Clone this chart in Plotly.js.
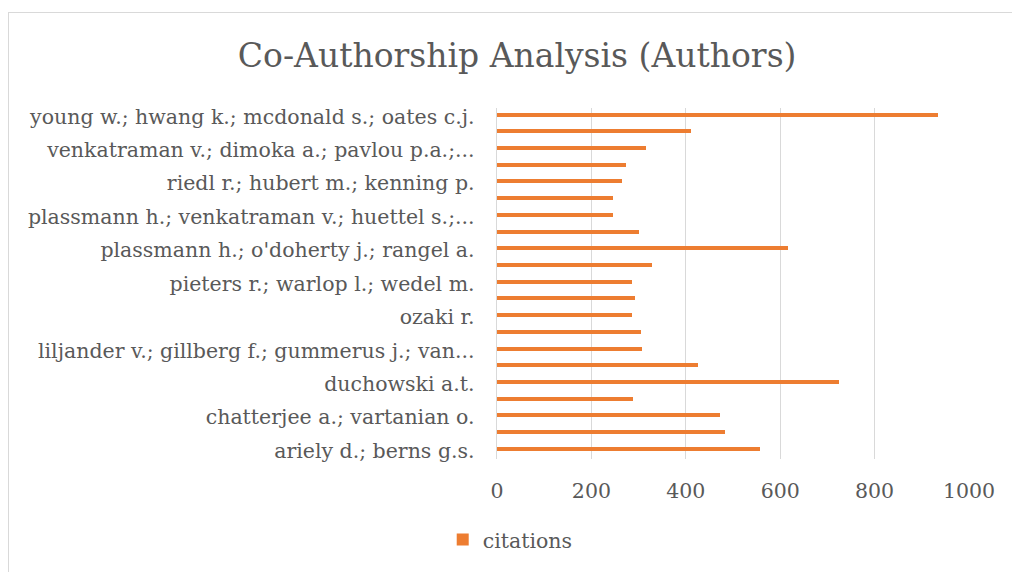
<!DOCTYPE html>
<html>
<head>
<meta charset="utf-8">
<script src="https://cdn.plot.ly/plotly-3.0.1.min.js"></script>
<style>
  html, body { margin: 0; padding: 0; background: #fff; }
  #chart { width: 1012px; height: 572px; }
  #frame { position: absolute; left: 8px; top: 12px; width: 1100px; height: 700px;
           border-left: 1.5px solid #d9d9d9; border-top: 1.5px solid #d9d9d9; pointer-events: none; }
</style>
</head>
<body>
<div id="chart"></div>
<div id="frame"></div>
<script>
// Categories listed bottom-to-top; only every other category carries a visible label.
const tickLabels = [
  "ariely d.; berns g.s.",
  "chatterjee a.; vartanian o.",
  "duchowski a.t.",
  "liljander v.; gillberg f.; gummerus j.; van...",
  "ozaki r.",
  "pieters r.; warlop l.; wedel m.",
  "plassmann h.; o'doherty j.; rangel a.",
  "plassmann h.; venkatraman v.; huettel s.;...",
  "riedl r.; hubert m.; kenning p.",
  "venkatraman v.; dimoka a.; pavlou p.a.;...",
  "young w.; hwang k.; mcdonald s.; oates c.j."
];
const citations = [558, 482, 472, 289, 725, 426, 308, 305, 286, 292, 286, 329,
                   616, 301, 245, 245, 264, 273, 315, 411, 934];
const xTicks = [0, 200, 400, 600, 800, 1000];

const positions = citations.map((_, i) => i);
const tickPositions = tickLabels.map((_, i) => i * 2);

const FONT = "DejaVu Serif, Georgia, serif";
const GREY = "#595959";

const trace = {
  type: "bar",
  orientation: "h",
  name: "citations",
  x: citations,
  y: positions,
  width: 0.24,
  offset: -0.01,
  marker: { color: "#ED7D31" },
  hoverinfo: "x"
};

const layout = {
  width: 1012, height: 572,
  paper_bgcolor: "#ffffff", plot_bgcolor: "#ffffff",
  margin: { l: 497, r: 43, t: 108, b: 111, pad: 0 },
  font: { family: FONT, color: GREY, size: 20.5 },
  title: {
    text: "Co-Authorship Analysis (Authors)",
    font: { family: FONT, size: 33, color: GREY },
    x: 0.511, xref: "container", xanchor: "center",
    y: 1 - 55 / 572, yref: "container", yanchor: "middle"
  },
  xaxis: {
    range: [0, 1000],
    tickvals: xTicks,
    showgrid: true, gridcolor: "#d9d9d9", gridwidth: 1.3,
    zeroline: false, showline: false, ticks: "",
    ticklabelstandoff: 17,
    tickfont: { family: FONT, size: 20.5, color: GREY },
    fixedrange: true
  },
  yaxis: {
    range: [-0.5, 20.5],
    tickvals: tickPositions,
    ticktext: tickLabels,
    showgrid: false, zeroline: false,
    showline: true, linecolor: "#d9d9d9", linewidth: 1.3,
    ticks: "",
    ticklabelstandoff: 17,
    tickfont: { family: FONT, size: 20.5, color: GREY },
    fixedrange: true
  },
  showlegend: true,
  legend: {
    orientation: "h",
    x: 0.028, xanchor: "center",
    y: -0.23, yanchor: "middle",
    font: { family: FONT, size: 20.5, color: GREY },
    bgcolor: "rgba(0,0,0,0)"
  },
  bargap: 0
};

Plotly.newPlot("chart", [trace], layout, { displayModeBar: false, staticPlot: true });
</script>
</body>
</html>
